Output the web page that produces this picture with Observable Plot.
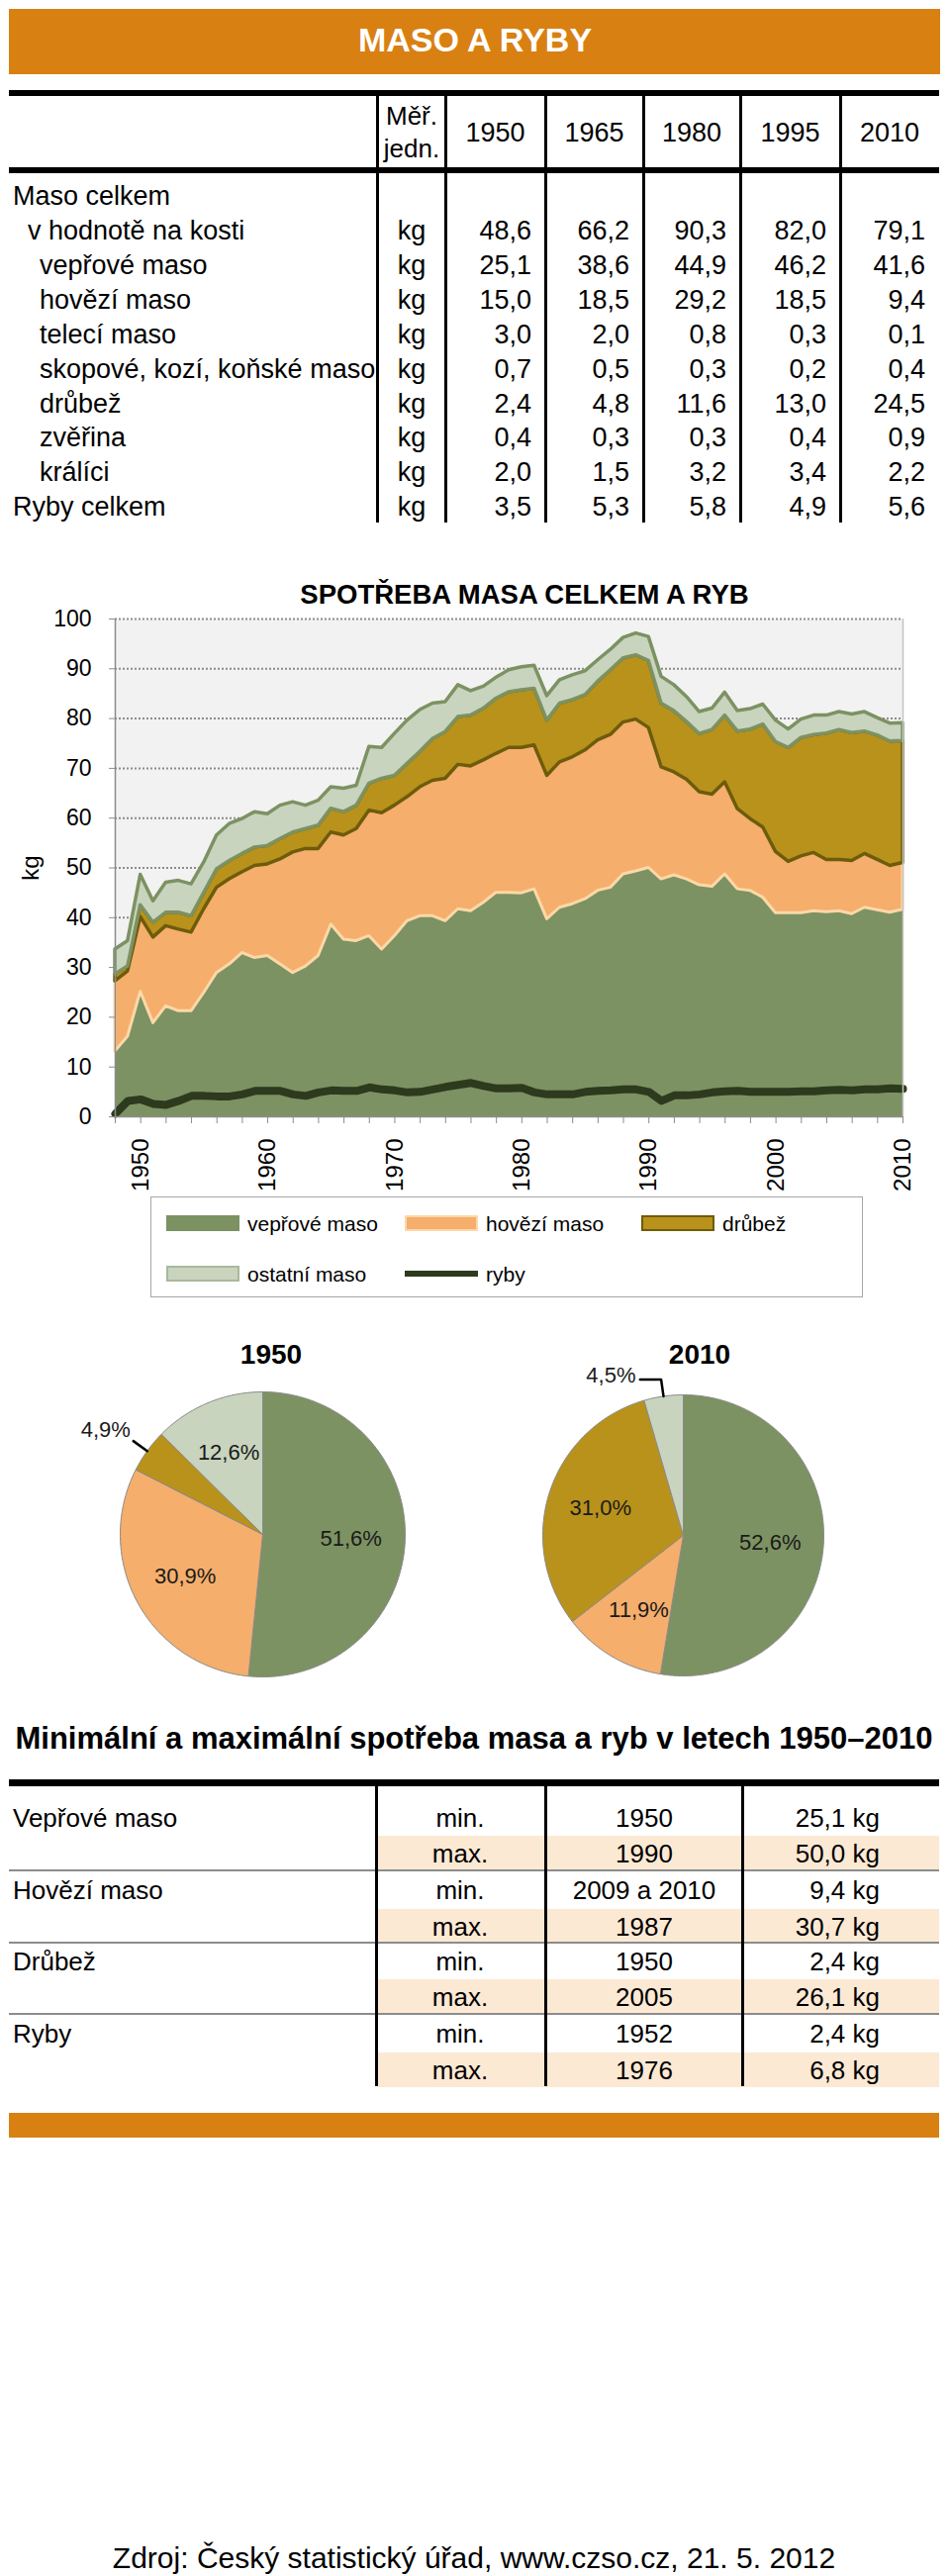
<!DOCTYPE html>
<html><head><meta charset="utf-8">
<script src="https://cdn.jsdelivr.net/npm/d3@7"></script>
<script src="https://cdn.jsdelivr.net/npm/@observablehq/plot@0.6"></script>
<style>
html,body{margin:0;padding:0;background:#fff;}
#page{position:relative;width:960px;height:2603px;font-family:"Liberation Sans",Arial,sans-serif;color:#000;overflow:hidden;}
#page svg{overflow:visible;}
</style></head><body><div id="page"></div>
<script>
// ---------------- DATA ----------------
const tableYears = ["1950", "1965", "1980", "1995", "2010"];
const tableGroupLabel = "Maso celkem";
const tableRowLabels = ["v hodnotě na kosti", "vepřové maso", "hovězí maso", "telecí maso", "skopové, kozí, koňské maso", "drůbež", "zvěřina", "králíci", "Ryby celkem"];
const tableRowIndent = [1, 2, 2, 2, 2, 2, 2, 2, 0];
const tableUnit = "kg";
const rowMasoCelkem = [48.6, 66.2, 90.3, 82.0, 79.1];
const rowVeprove = [25.1, 38.6, 44.9, 46.2, 41.6];
const rowHovezi = [15.0, 18.5, 29.2, 18.5, 9.4];
const rowTeleci = [3.0, 2.0, 0.8, 0.3, 0.1];
const rowSkopove = [0.7, 0.5, 0.3, 0.2, 0.4];
const rowDrubez = [2.4, 4.8, 11.6, 13.0, 24.5];
const rowZverina = [0.4, 0.3, 0.3, 0.4, 0.9];
const rowKralici = [2.0, 1.5, 3.2, 3.4, 2.2];
const rowRyby = [3.5, 5.3, 5.8, 4.9, 5.6];

const years = [1948,1949,1950,1951,1952,1953,1954,1955,1956,1957,1958,1959,1960,1961,1962,1963,1964,1965,1966,1967,1968,1969,1970,1971,1972,1973,1974,1975,1976,1977,1978,1979,1980,1981,1982,1983,1984,1985,1986,1987,1988,1989,1990,1991,1992,1993,1994,1995,1996,1997,1998,1999,2000,2001,2002,2003,2004,2005,2006,2007,2008,2009,2010];
const porkValues = [13.1,16.1,25.1,18.8,22.2,21.2,21.2,24.9,28.9,30.6,32.9,31.9,32.3,30.6,28.9,30.2,32.3,38.6,35.6,35.3,36.3,33.6,36.3,39.3,40.3,40.3,39.3,41.7,41.3,43.0,45.0,45.0,44.9,45.7,39.7,42.0,42.7,43.7,45.4,46.0,48.7,49.3,50.0,47.7,48.5,47.7,46.5,46.2,48.7,45.7,45.4,44.0,40.9,40.9,40.9,41.3,41.1,41.3,40.7,42.0,41.5,41.0,41.6];
const beefValues = [14.1,13.1,15.0,17.2,16.1,16.4,15.8,16.8,17.1,17.1,16.2,18.5,18.4,21.1,24.2,23.6,21.5,18.5,20.9,22.5,25.2,27.4,26.2,24.9,25.9,27.2,28.6,29.0,29.1,28.6,27.9,29.1,29.2,28.9,28.8,29.2,29.5,29.9,30.2,30.7,30.5,30.5,28.1,22.5,20.7,20.0,18.7,18.5,18.5,16.1,14.4,14.1,12.3,10.3,11.4,11.7,10.5,10.3,10.7,10.8,10.1,9.4,9.4];
const poultryValues = [1.4,1.0,2.4,3.0,2.7,3.4,3.3,3.3,3.7,3.7,3.7,3.7,3.7,4.1,4.0,4.0,4.7,4.8,4.7,4.7,5.4,6.9,6.0,6.7,7.1,8.4,9.4,9.6,10.2,10.4,11.1,11.2,11.6,11.4,11.1,11.8,11.5,11.1,11.8,13.0,12.9,12.9,13.5,12.8,12.3,11.6,11.7,13.0,13.4,15.6,18.0,20.7,22.1,22.9,23.8,23.7,25.4,26.1,25.7,24.6,25.0,25.0,24.5];
const otherValues = [5.0,5.1,6.1,4.3,6.0,6.4,6.4,6.1,6.8,7.4,7.0,7.1,6.4,6.7,6.1,4.7,5.0,4.3,4.7,4.0,7.4,6.2,8.4,8.7,8.4,7.1,6.0,6.4,4.9,4.4,4.2,4.4,4.6,4.6,4.9,4.7,5.0,4.8,4.3,4.1,4.1,4.4,4.8,5.4,5.2,5.0,4.4,4.3,4.6,4.1,4.1,4.0,4.3,3.7,3.7,3.9,3.6,3.6,3.7,3.9,3.5,3.6,3.6];
const fishValues = [0.6,3.2,3.5,2.6,2.4,3.2,4.2,4.2,4.1,4.1,4.5,5.2,5.2,5.2,4.5,4.2,4.9,5.3,5.2,5.2,5.9,5.5,5.3,4.9,5.0,5.5,6.0,6.4,6.8,6.2,5.7,5.7,5.8,4.9,4.5,4.5,4.5,5.0,5.2,5.3,5.5,5.5,5.0,3.2,4.3,4.3,4.5,4.9,5.1,5.2,5.0,5.0,5.0,5.0,5.1,5.1,5.3,5.4,5.3,5.5,5.5,5.7,5.6];
const yTicks = [0, 10, 20, 30, 40, 50, 60, 70, 80, 90, 100];

const seriesNames = ["vepřové maso", "hovězí maso", "drůbež", "ostatní maso", "ryby"];
const pieYears = ["1950", "2010"];
const pie1950 = [51.6, 30.9, 4.9, 12.6];
const pie2010 = [52.6, 11.9, 31.0, 4.5];

const minmaxTitle = "Minimální a maximální spotřeba masa a ryb v letech 1950–2010";
const minmaxCategories = ["Vepřové maso", "Hovězí maso", "Drůbež", "Ryby"];
const minYears = ["1950", "2009 a 2010", "1950", "1952"];
const minValues = [25.1, 9.4, 2.4, 2.4];
const maxYears = ["1990", "1987", "2005", "1976"];
const maxValues = [50.0, 30.7, 26.1, 6.8];

const mainTitle = "MASO A RYBY";
const chartTitle = "SPOTŘEBA MASA CELKEM A RYB";
const sourceText = "Zdroj: Český statistický úřad, www.czso.cz, 21. 5. 2012";

// ---------------- STYLE ----------------
const FONT = '"Liberation Sans", Arial, sans-serif';
const ORANGE = "#D98013";
const C_PORK = "#7C9262", C_BEEF = "#F5AE6B", C_POULTRY = "#B8921B", C_OTHER = "#C8D4BE", C_FISH = "#2D3A1E";
const S_BEEF = "#FCD8A8", S_POULTRY = "#6E5B0B", S_OTHER = "#7C9262";
const fmt = v => v.toFixed(1).replace(".", ",");

const page = document.getElementById("page");
function rect(x, y, w, h, bg, extra = "") {
  const d = document.createElement("div");
  d.style.cssText = `position:absolute;left:${x}px;top:${y}px;width:${w}px;height:${h}px;background:${bg};${extra}`;
  page.appendChild(d); return d;
}
function text(s, x, y, {size = 27, weight = "normal", anchor = "start", color = "#000", rotate = 0} = {}) {
  const d = document.createElement("div");
  d.textContent = s;
  const tx = anchor === "middle" ? "-50%" : anchor === "end" ? "-100%" : "0";
  d.style.cssText = `position:absolute;left:${x}px;top:${y}px;font-size:${size}px;font-weight:${weight};color:${color};white-space:nowrap;line-height:1;transform:translate(${tx},-50%)${rotate ? ` rotate(${rotate}deg)` : ""};`;
  page.appendChild(d); return d;
}

// ---------------- HEADER ----------------
rect(9, 9, 941, 66, ORANGE);
text(mainTitle, 480, 40, {size: 34, weight: "bold", anchor: "middle", color: "#fff"});

// ---------------- TOP TABLE ----------------
rect(9, 91, 940, 6, "#000");
rect(9, 169, 940, 6, "#000");
const colLines = [381, 450, 551, 650, 748, 849, 949];
colLines.slice(0, 6).forEach(x => rect(x - 1.5, 97, 3, 431, "#000"));
text("Měř.", 416, 117, {size: 26, anchor: "middle"});
text("jedn.", 416, 150, {size: 26, anchor: "middle"});
tableYears.forEach((yr, j) => text(yr, (colLines[j + 1] + colLines[j + 2]) / 2, 134, {size: 27, anchor: "middle"}));
const tableValues = [rowMasoCelkem, rowVeprove, rowHovezi, rowTeleci, rowSkopove, rowDrubez, rowZverina, rowKralici, rowRyby];
text(tableGroupLabel, 13, 198, {size: 27});
const indentX = [13, 28, 40];
tableRowLabels.forEach((lab, i) => {
  const y = 233 + i * 34.9;
  text(lab, indentX[tableRowIndent[i]], y, {size: 27});
  text(tableUnit, 416, y, {size: 27, anchor: "middle"});
  tableValues[i].forEach((v, j) => text(fmt(v), colLines[j + 2] - 14, y, {size: 27, anchor: "end"}));
});

// ---------------- AREA CHART ----------------
text(chartTitle, 530, 601, {size: 27.5, weight: "bold", anchor: "middle"});
text("kg", 31, 877, {size: 24, anchor: "middle", rotate: -90});

const areaDefs = [
  {values: porkValues, fill: C_PORK, stroke: "none", sw: 0},
  {values: beefValues, fill: C_BEEF, stroke: S_BEEF, sw: 3},
  {values: poultryValues, fill: C_POULTRY, stroke: S_POULTRY, sw: 3.5},
  {values: otherValues, fill: C_OTHER, stroke: S_OTHER, sw: 3.5}
];
let base = years.map(() => 0);
const areaMarks = areaDefs.map(s => {
  const rows = years.map((yr, i) => ({year: yr, y1: base[i], y2: base[i] + s.values[i]}));
  base = rows.map(r => r.y2);
  return Plot.areaY(rows, {x: "year", y1: "y1", y2: "y2", fill: s.fill, stroke: s.stroke, strokeWidth: s.sw, strokeLinejoin: "round"});
});
const fishRows = years.map((yr, i) => ({year: yr, value: fishValues[i]}));
const evenYears = years.filter(y => y % 2 === 0);
const decadeYears = years.filter(y => y % 10 === 0);

const chart = Plot.plot({
  width: 960, height: 628,
  marginTop: 45, marginBottom: 80, marginLeft: 116, marginRight: 48,
  style: {fontFamily: FONT, fontSize: "23px", color: "#000", background: "transparent"},
  x: {domain: [1948, 2010], label: null},
  y: {domain: [0, 100], label: null},
  marks: [
    Plot.frame({fill: "#F2F2F2", stroke: null}),
    Plot.ruleY(yTicks.filter(d => d > 0), {stroke: "#8c8c8c", strokeWidth: 2, strokeDasharray: "2,2"}),
    ...areaMarks,
    Plot.line(fishRows, {x: "year", y: "value", stroke: C_FISH, strokeWidth: 8, strokeLinejoin: "round"}),
    Plot.ruleX([2010], {stroke: "#c4c4c4", strokeWidth: 1.5}),
    Plot.ruleX([1948], {stroke: "#8c8c8c", strokeWidth: 1.5}),
    Plot.ruleY([0], {stroke: "#8c8c8c", strokeWidth: 1.5}),
    Plot.axisY({ticks: yTicks, tickSize: 6, tickPadding: 18, stroke: "#8c8c8c", tickFormat: d => String(d), label: null}),
    Plot.axisX({ticks: evenYears, tickSize: 7, stroke: "#8c8c8c", tickFormat: () => "", label: null}),
    Plot.axisX({ticks: decadeYears, tickSize: 0, tickPadding: 22, tickRotate: -90, fontSize: 24, tickFormat: d => String(d), label: null})
  ]
});
chart.style.position = "absolute"; chart.style.left = "0px"; chart.style.top = "580px";
page.appendChild(chart);

// legend
rect(152, 1209, 720, 102, "#fff", "border:1.5px solid #a6a6a6;box-sizing:border-box;");
const legendDefs = [
  {x: 168, y: 1236, fill: C_PORK, border: C_PORK},
  {x: 409, y: 1236, fill: C_BEEF, border: S_BEEF},
  {x: 648, y: 1236, fill: C_POULTRY, border: S_POULTRY},
  {x: 168, y: 1287, fill: C_OTHER, border: "#a9b89a"},
  {x: 409, y: 1287, line: C_FISH}
];
legendDefs.forEach((d, i) => {
  if (d.line) rect(d.x, d.y - 3, 74, 6, d.line);
  else rect(d.x, d.y - 8, 74, 16, d.fill, `border:2px solid ${d.border};box-sizing:border-box;`);
  text(seriesNames[i], d.x + 82, d.y, {size: 21});
});

// ---------------- PIES ----------------
const pieFills = [C_PORK, C_BEEF, C_POULTRY, C_OTHER];
function pieChart(shares, radiusPx) {
  const total = d3.sum(shares);
  let a = 0;
  const slices = shares.map((v, i) => { const a0 = a; a += v / total * 2 * Math.PI; return {i, v, a0, a1: a}; });
  const marks = [];
  slices.forEach(s => {
    const pts = [{x: 0, y: 0}];
    const n = Math.max(2, Math.ceil((s.a1 - s.a0) / (Math.PI / 180)));
    for (let k = 0; k <= n; k++) { const t = s.a0 + (s.a1 - s.a0) * k / n; pts.push({x: Math.sin(t), y: Math.cos(t)}); }
    pts.push({x: 0, y: 0});
    marks.push(Plot.line(pts, {x: "x", y: "y", fill: pieFills[s.i], stroke: "#8a8a8a", strokeWidth: 1, strokeLinejoin: "round"}));
  });
  const inside = [], leaders = [], outside = [];
  slices.forEach(s => {
    const m = (s.a0 + s.a1) / 2;
    const label = fmt(s.v) + "%";
    if (s.v >= 8) inside.push({x: 0.62 * Math.sin(m), y: 0.62 * Math.cos(m), label});
    else {
      const p0 = {x: Math.sin(m), y: Math.cos(m)};
      const p1 = {x: 1.12 * Math.sin(m), y: 1.12 * Math.cos(m)};
      if (Math.abs(Math.sin(m)) < 0.5) {
        const p2 = {x: p1.x - 0.15, y: p1.y};
        leaders.push([p0, p1, p2]);
        outside.push({x: p2.x - 0.03, y: p2.y + 0.03, label});
      } else {
        leaders.push([p0, p1]);
        outside.push({x: p1.x - 0.02, y: p1.y + 0.08, label});
      }
    }
  });
  marks.push(Plot.text(inside, {x: "x", y: "y", text: "label", fontSize: 22, fill: "#1a1a1a"}));
  leaders.forEach(l => marks.push(Plot.line(l, {x: "x", y: "y", stroke: "#000", strokeWidth: 2.5})));
  marks.push(Plot.text(outside, {x: "x", y: "y", text: "label", fontSize: 22, textAnchor: "end", fill: "#1a1a1a"}));
  const m = 200 - radiusPx;
  return Plot.plot({
    width: 400, height: 400, margin: m,
    style: {fontFamily: FONT, background: "transparent"},
    x: {domain: [-1, 1], axis: null}, y: {domain: [-1, 1], axis: null},
    marks
  });
}
const p1 = pieChart(pie1950, 144);
p1.style.position = "absolute"; p1.style.left = "65px"; p1.style.top = "1350px";
page.appendChild(p1);
const p2 = pieChart(pie2010, 142);
p2.style.position = "absolute"; p2.style.left = "490px"; p2.style.top = "1351px";
page.appendChild(p2);
text(pieYears[0], 274, 1369, {size: 28, weight: "bold", anchor: "middle"});
text(pieYears[1], 707, 1369, {size: 28, weight: "bold", anchor: "middle"});

// ---------------- MIN / MAX TABLE ----------------
text(minmaxTitle, 479, 1756, {size: 31, weight: "bold", anchor: "middle"});
const minRowY = [1837, 1910, 1982, 2055];
const maxRowY = [1873, 1947, 2018, 2092];
maxRowY.forEach(y => rect(381, y - 18, 568, 35, "#FCE9D4"));
rect(9, 1798, 940, 7, "#000");
[1889, 1962, 2034].forEach(y => rect(9, y, 940, 2, "#8c8c8c"));
[380, 551, 750].forEach(x => rect(x - 1.5, 1805, 3, 303, "#000"));
minmaxCategories.forEach((c, i) => {
  text(c, 13, minRowY[i], {size: 26});
  text("min.", 465, minRowY[i], {size: 26, anchor: "middle"});
  text(minYears[i], 651, minRowY[i], {size: 26, anchor: "middle"});
  text(fmt(minValues[i]) + " kg", 889, minRowY[i], {size: 26, anchor: "end"});
  text("max.", 465, maxRowY[i], {size: 26, anchor: "middle"});
  text(maxYears[i], 651, maxRowY[i], {size: 26, anchor: "middle"});
  text(fmt(maxValues[i]) + " kg", 889, maxRowY[i], {size: 26, anchor: "end"});
});
rect(9, 2135, 940, 25, ORANGE);

// ---------------- FOOTER ----------------
text(sourceText, 479, 2585, {size: 30, anchor: "middle"});
</script></body></html>
